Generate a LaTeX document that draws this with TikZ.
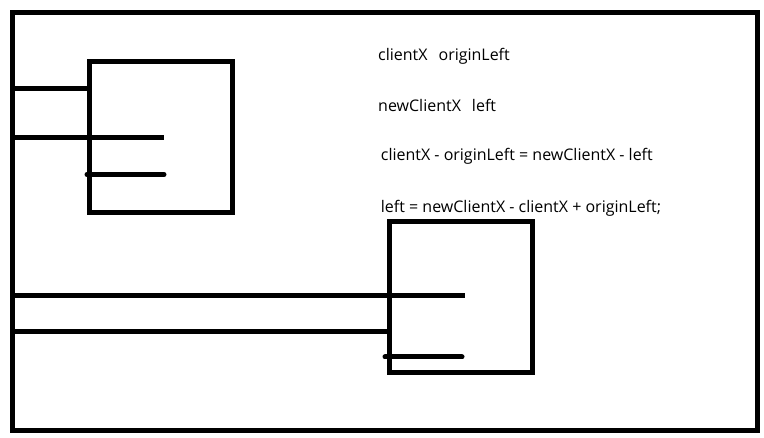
\documentclass[tikz,border=0pt]{standalone}
\usepackage{fontspec}
\setmainfont{Open Sans}
\tikzset{
  thick line/.style={line width=5pt},
  frame/.style={line width=5pt},
  txt/.style={anchor=base west, inner sep=0pt, font=\fontsize{16}{18}\selectfont}
}
\begin{document}
\begin{tikzpicture}[x=1pt,y=-1pt]
\useasboundingbox (0,0) rectangle (764,438);
\fill[white] (0,0) rectangle (764,438);
% outer frame
\draw[frame] (12,12.5) rectangle (757,431);
% box 1
\draw[frame] (89.5,61.5) rectangle (232.5,212.5);
% box 2
\draw[frame] (389.5,222) rectangle (532,372.5);
% lines box 1
\draw[thick line] (12,88.5) -- (89.5,88.5);
\draw[thick line] (12,137.5) -- (164,137.5);
\draw[thick line, line cap=round] (87,174.5) -- (164,174.5);
% lines box 2
\draw[thick line] (12,295.5) -- (465,295.5);
\draw[thick line] (12,332) -- (389.5,332);
\draw[thick line, line cap=round] (385,357) -- (462,357);
% texts
\node[txt] (t1) at (378,60.7) {clientX\hspace{11pt}originLeft};
\node[txt] (t2) at (378,111.7) {newClientX\hspace{11pt}left};
\node[txt] (t3) at (380.7,160.7) {clientX - originLeft = newClientX - left};
\node[txt] (t4) at (380.7,212.7) {left = newClientX - clientX + originLeft;};
\end{tikzpicture}
\end{document}
